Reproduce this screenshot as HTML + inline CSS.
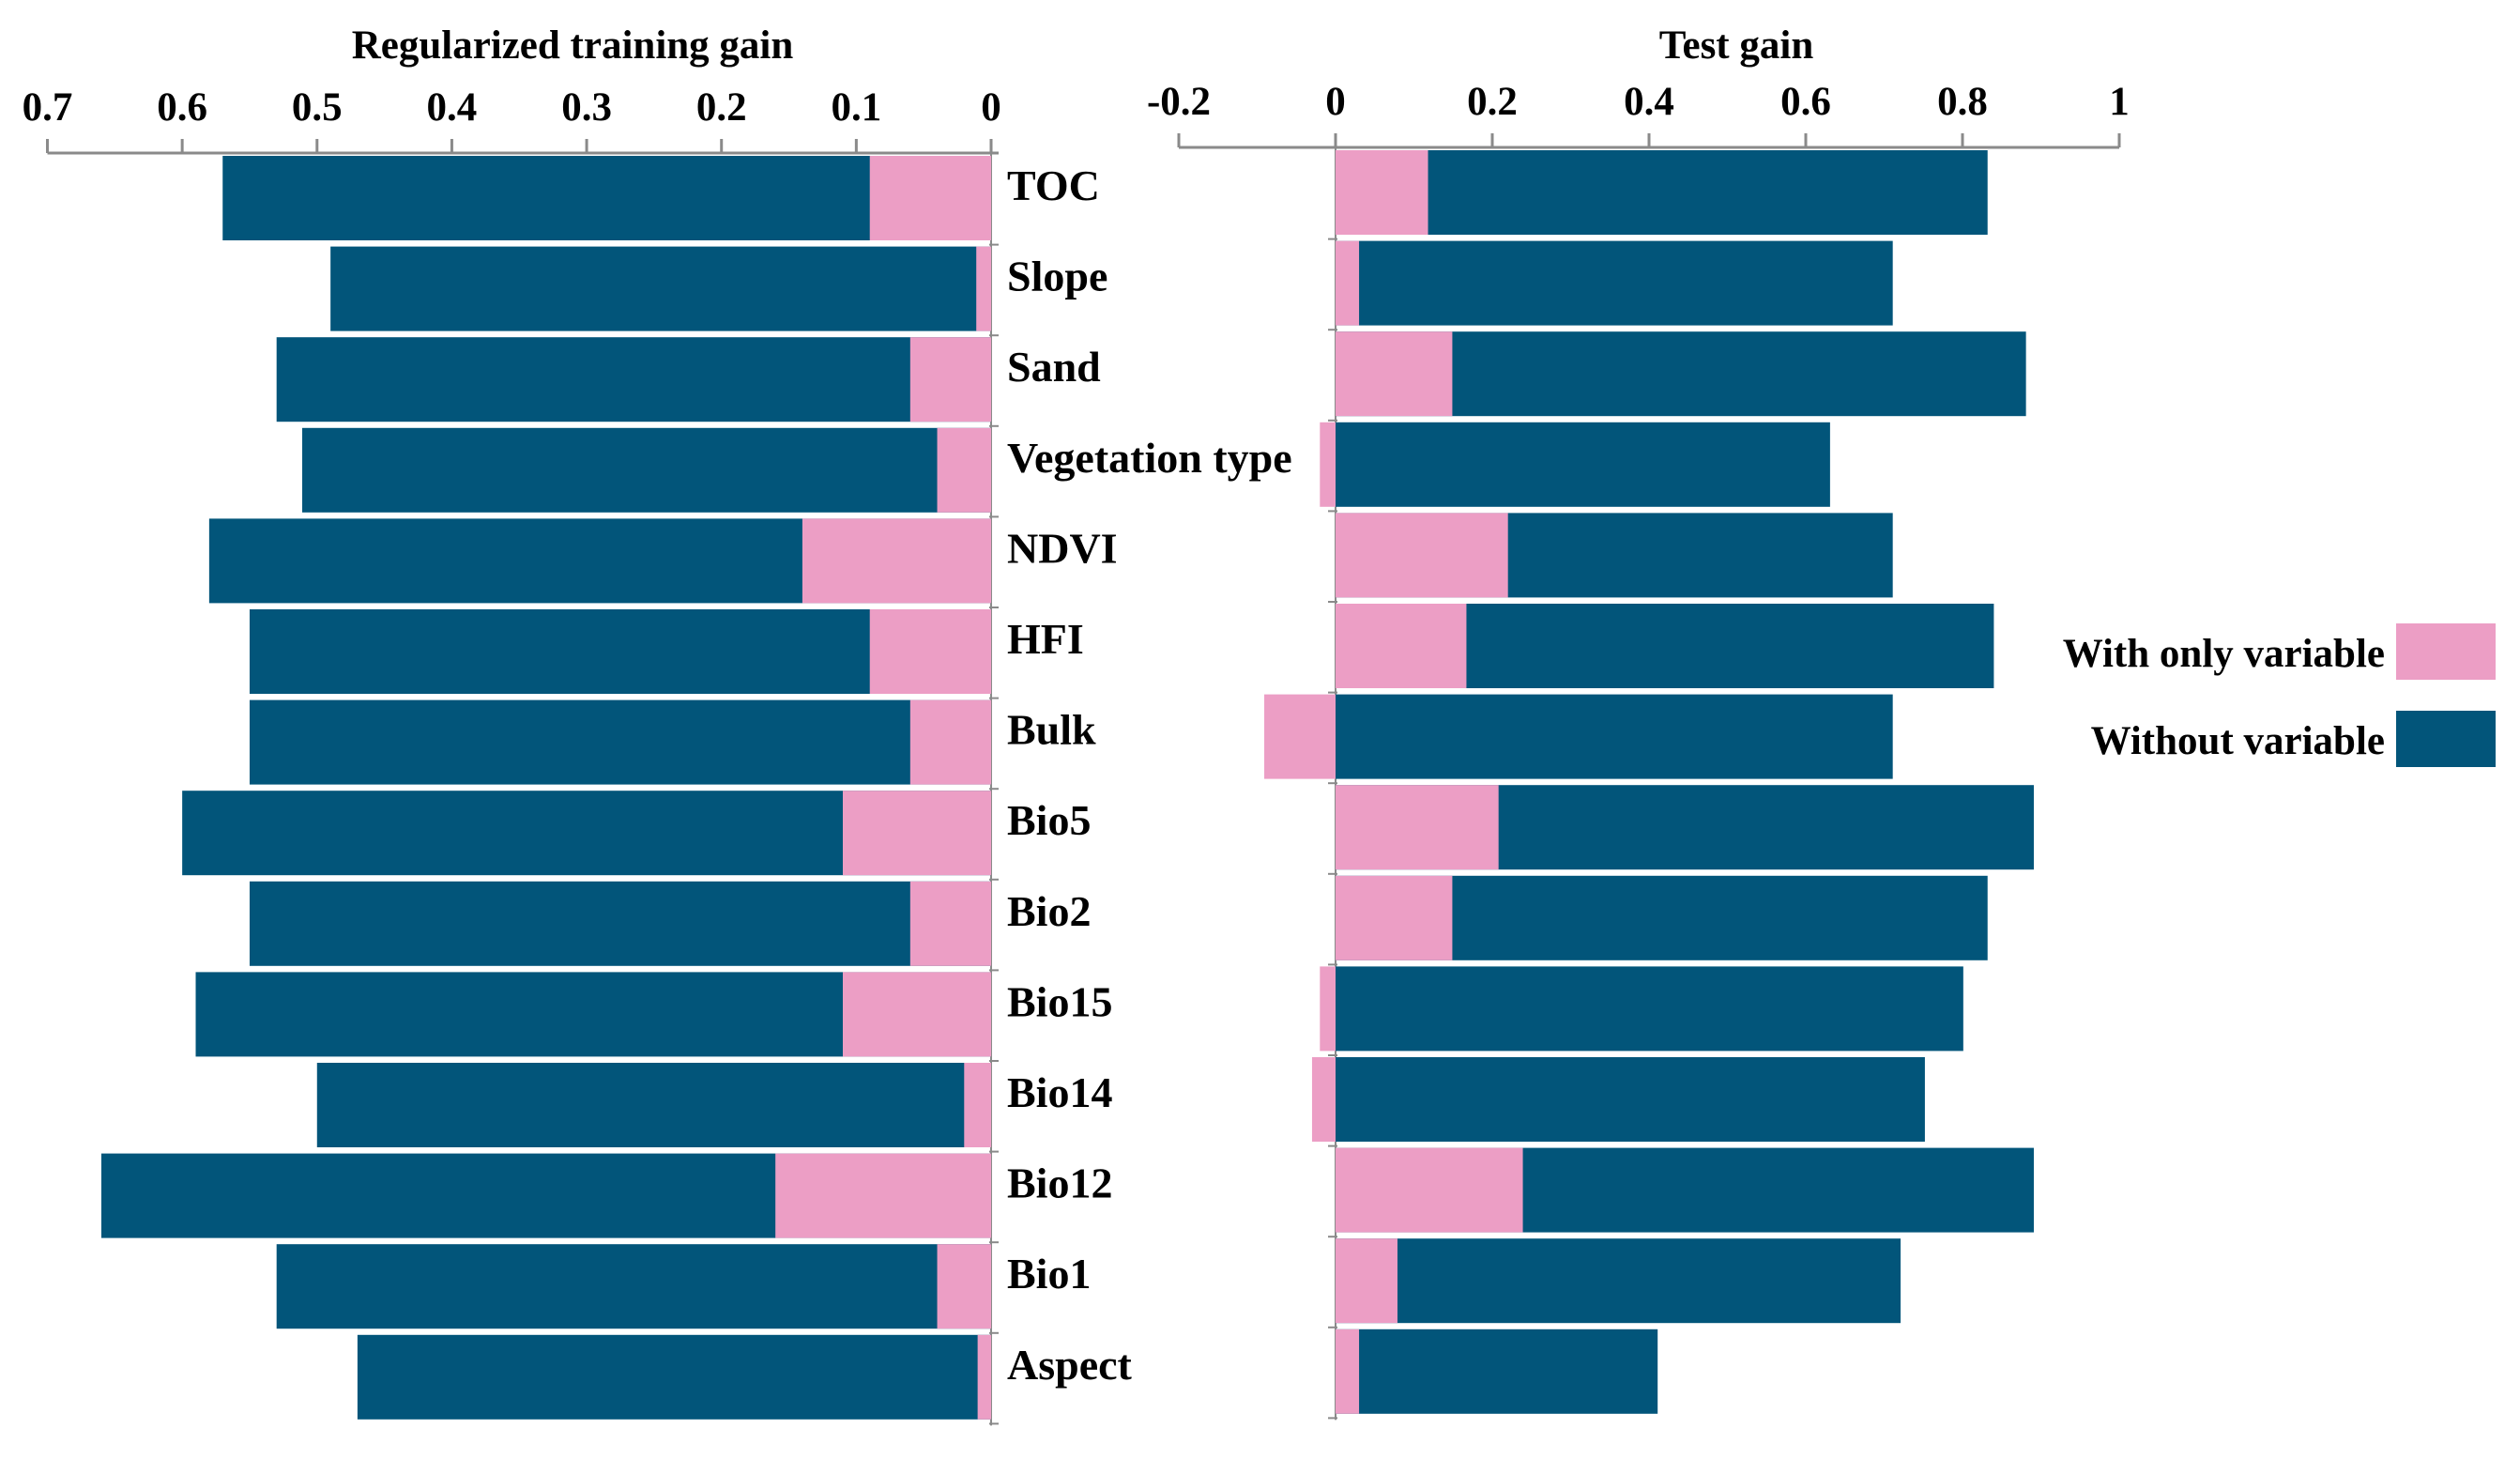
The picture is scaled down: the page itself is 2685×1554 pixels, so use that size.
<!DOCTYPE html>
<html><head><meta charset="utf-8">
<style>
html,body{margin:0;padding:0;background:#fff;}
svg{display:block;font-family:"Liberation Serif",serif;font-weight:bold;}
</style></head>
<body>
<svg id="chart" width="2685" height="1554" viewBox="0 0 2685 1554" xmlns="http://www.w3.org/2000/svg">
  <text x="610" y="62" font-size="43" text-anchor="middle">Regularized training gain</text>
  <text x="1850" y="62" font-size="43" text-anchor="middle">Test gain</text>
  <g id="left"></g>
  <g id="right"></g>
  <g id="labels"></g>
  <g>
    <text x="2541" y="710" font-size="43" text-anchor="end">With only variable</text>
    <rect x="2553" y="664" width="106" height="60" fill="#EC9EC5"/>
    <text x="2541" y="803" font-size="43" text-anchor="end">Without variable</text>
    <rect x="2553" y="757" width="106" height="60" fill="#02557A"/>
  </g>
</svg>
<script>
const categories = ["TOC","Slope","Sand","Vegetation type","NDVI","HFI","Bulk","Bio5","Bio2","Bio15","Bio14","Bio12","Bio1","Aspect"];
const trainWithout = [0.570,0.490,0.530,0.511,0.580,0.550,0.550,0.600,0.550,0.590,0.500,0.660,0.530,0.470];
const trainWithOnly = [0.09,0.011,0.06,0.04,0.14,0.09,0.06,0.11,0.06,0.11,0.02,0.16,0.04,0.01];
const testWithout = [0.832,0.711,0.881,0.631,0.711,0.840,0.711,0.891,0.832,0.801,0.752,0.891,0.721,0.411];
const testWithOnly = [0.118,0.03,0.149,-0.02,0.22,0.167,-0.091,0.208,0.149,-0.02,-0.03,0.239,0.079,0.03];
const leftTicks = [0.7,0.6,0.5,0.4,0.3,0.2,0.1,0];
const rightTicks = [-0.2,0,0.2,0.4,0.6,0.8,1];

const NS="http://www.w3.org/2000/svg";
const DARK="#02557A", PINK="#EC9EC5", AX="#8a8a8a";
function mk(tag, attrs, parent){const e=document.createElementNS(NS,tag);for(const k in attrs)e.setAttribute(k,attrs[k]);parent.appendChild(e);return e;}
const lx = v => 1056 - v*(1056-50.5)/0.7;
const rx = v => 1423 + v*(2258-1423)/1.0;
const rowH = 96.6;
const lTop = 166, rTop = 160;
const n = categories.length;

const L = document.getElementById('left'), R = document.getElementById('right'), LB=document.getElementById('labels');
let al = mk('line',{x1:lx(0.7),x2:lx(0)+8,y1:163,y2:163,stroke:AX,'stroke-width':3},L);


leftTicks.forEach(t=>{
  const x=lx(t);
  const tk=mk('line',{x1:x,x2:x,y1:148,y2:163,stroke:AX,'stroke-width':3},L);
  
  
  const tx=mk('text',{x:x,y:128,'font-size':43,'text-anchor':'middle'},L);
  tx.textContent=String(t);
  
  
});
let vl = mk('line',{x1:lx(0),x2:lx(0),y1:163,y2:lTop+n*rowH,stroke:AX,'stroke-width':2},L);


let ar = mk('line',{x1:rx(-0.2),x2:rx(1),y1:157,y2:157,stroke:AX,'stroke-width':3},R);


rightTicks.forEach(t=>{
  const x=rx(t);
  const tk=mk('line',{x1:x,x2:x,y1:142,y2:157,stroke:AX,'stroke-width':3},R);
  
  
  const tx=mk('text',{x:x,y:122,'font-size':43,'text-anchor':'middle'},R);
  tx.textContent=String(t);
  
  
});
let vr = mk('line',{x1:rx(0),x2:rx(0),y1:157,y2:rTop+n*rowH,stroke:AX,'stroke-width':2},R);



const bh = 90;
for(let i=0;i<n;i++){
  const yl = lTop + i*rowH, yr = rTop + i*rowH;
  let x0=lx(trainWithout[i]);
  let b=mk('rect',{x:x0,y:yl,width:lx(0)-x0,height:bh,fill:DARK},L);
  
  
  x0=lx(trainWithOnly[i]);
  b=mk('rect',{x:x0,y:yl,width:lx(0)-x0,height:bh,fill:PINK},L);
  
  
  let tk=mk('line',{x1:lx(0)-2,x2:lx(0)+8,y1:yl+rowH-2,y2:yl+rowH-2,stroke:AX,'stroke-width':2},L);
  
  
  let a=rx(0), w=rx(testWithout[i])-a;
  b=mk('rect',{x:a,y:yr,width:w,height:bh,fill:DARK},R);
  
  
  const v=testWithOnly[i];
  const px=Math.min(rx(0),rx(v)), pw=Math.abs(rx(v)-rx(0));
  b=mk('rect',{x:px,y:yr,width:pw,height:bh,fill:PINK},R);
  
  
  tk=mk('line',{x1:rx(0)-8,x2:rx(0)+2,y1:yr+rowH-2,y2:yr+rowH-2,stroke:AX,'stroke-width':2},R);
  
  
  const t=mk('text',{x:1073,y:yl+bh/2+2,'font-size':46},LB);
  t.textContent=categories[i];
  
  
}
</script>
</body></html>
